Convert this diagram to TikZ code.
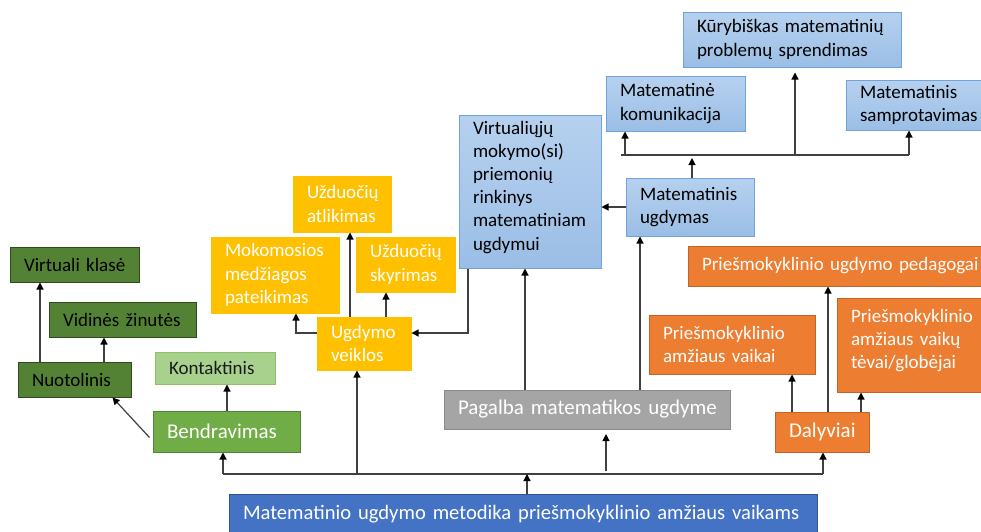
\documentclass[tikz,border=0pt]{standalone}
\usepackage{fontspec}
\setmainfont{Carlito}
\usetikzlibrary{arrows.meta}

% box colours
\definecolor{blueT}{HTML}{B6D1EF}
\definecolor{blueB}{HTML}{9BBEE6}
\definecolor{blueLine}{HTML}{6FA3DA}
\definecolor{amber}{HTML}{FFC000}
\definecolor{orangeF}{HTML}{ED7D31}
\definecolor{orangeL}{HTML}{C0652A}
\definecolor{greyF}{HTML}{A5A5A5}
\definecolor{greyL}{HTML}{8A8A8A}
\definecolor{baseF}{HTML}{4472C4}
\definecolor{baseL}{HTML}{2F5597}
\definecolor{greenF}{HTML}{70AD47}
\definecolor{greenL}{HTML}{548235}
\definecolor{paleF}{HTML}{A9D18E}
\definecolor{paleL}{HTML}{8CC168}
\definecolor{darkF}{HTML}{548235}
\definecolor{darkL}{HTML}{2E4A1E}
\definecolor{wireC}{HTML}{404040}

% one unbreakable line of box text
\newcommand\oneline[1]{\mbox{#1}}

\tikzset{
  box/.style={rectangle, inner xsep=14pt, inner ysep=0pt, align=left,
    line width=1pt, font=\fontsize{19}{23.2}\selectfont},
  bigtext/.style={font=\fontsize{21}{25.6}\selectfont},
  basetext/.style={font=\fontsize{20.6}{25}\selectfont},
  bluebox/.style={box, draw=blueLine, top color=blueT, bottom color=blueB, text=black},
  amberbox/.style={box, draw=amber, fill=amber, text=white},
  orangebox/.style={box, draw=orangeL, fill=orangeF, text=white},
  greybox/.style={box, draw=greyL, fill=greyF, text=white},
  basebox/.style={box, draw=baseL, fill=baseF, text=white},
  greenbox/.style={box, draw=greenL, fill=greenF, text=white},
  palebox/.style={box, draw=paleL, fill=paleF, text=black!90},
  darkbox/.style={box, draw=darkL, fill=darkF, text=black},
  wire/.style={draw=wireC, line width=1.2pt},
  arr/.style={wire, -{Triangle[length=7pt,width=7pt,color=black]}},
}

\begin{document}
\begin{tikzpicture}[x=1pt, y=-1pt]
\useasboundingbox (0,0) rectangle (981,531);

% ---- root ----
\node[basebox, basetext, text width=560, minimum height=40] (base) at (523,514)
  {\oneline{Matematinio ugdymo metodika priešmokyklinio amžiaus vaikams}};

% ---- communication branch ----
\node[greenbox, bigtext, text width=119, minimum height=41] (bend) at (226.5,431.5) {\oneline{Bendravimas}};
\node[palebox, text width=92, minimum height=32] (kont) at (215,368) {\oneline{Kontaktinis}};
\node[darkbox, text width=85, minimum height=35] (nuot) at (74.5,379.5) {\oneline{Nuotolinis}};
\node[darkbox, text width=119, minimum height=35] (vid) at (122.5,319.5) {\oneline{Vidinės žinutės}};
\node[darkbox, text width=101, minimum height=35] (virt) at (74.5,264.5) {\oneline{Virtuali klasė}};

% ---- educational activities ----
\node[amberbox, text width=66, minimum height=53] (ugd) at (364,343.5) {Ugdymo\\veiklos};
\node[amberbox, text width=100, minimum height=76] (mok) at (275,275) {Mokomosios\\medžiagos\\pateikimas};
\node[amberbox, text width=70, minimum height=56] (atl) at (342,204) {Užduočių\\atlikimas};
\node[amberbox, text width=71, minimum height=55] (sky) at (405.5,264.5) {Užduočių\\skyrimas};

% ---- support in mathematics ----
\node[greybox, bigtext, text width=258, minimum height=39] (pag) at (587,409.5) {\oneline{Pagalba matematikos ugdyme}};
\node[bluebox, text width=114, minimum height=153] (vmp) at (530,191.5)
  {Virtualiųjų\\mokymo(si)\\priemonių\\rinkinys\\\oneline{matematiniam}\\ugdymui\rule[-12pt]{0pt}{0pt}};
\node[bluebox, text width=100, minimum height=58] (mu) at (690,207) {\oneline{Matematinis}\\ugdymas};
\node[bluebox, text width=111, minimum height=55] (mk) at (675.5,103.5) {Matematinė\\\oneline{komunikacija}};
\node[bluebox, text width=190, minimum height=55] (kur) at (792,39.5)
  {\oneline{Kūrybiškas matematinių}\\\oneline{problemų sprendimas}};
\node[bluebox, text width=116, minimum height=50] (sam) at (918,105) {Matematinis\\\oneline{samprotavimas}};

% ---- participants ----
\node[orangebox, bigtext, text width=66, minimum height=40] (dal) at (822,432) {\oneline{Dalyviai}};
\node[orangebox, text width=138, minimum height=59] (vaik) at (732,344.5)
  {\oneline{Priešmokyklinio}\\\oneline{amžiaus vaikai}};
\node[orangebox, text width=130, minimum height=94] (tev) at (916,345)
  {\oneline{Priešmokyklinio}\\\oneline{amžiaus vaikų}\\\oneline{tėvai/globėjai}\rule[-12pt]{0pt}{0pt}};
\node[orangebox, text width=279, minimum height=40] (ped) at (841.5,266)
  {\oneline{Priešmokyklinio ugdymo pedagogai}};

% ---- lower bus ----
\coordinate (busL) at (223,474);
\coordinate (busU) at (357,474);
\coordinate (busM) at (527,474);
\coordinate (busR) at (823,474);
\coordinate (pagFoot) at (606,471);
\coordinate (pagTip) at (606,434);
\draw[wire] (busL) -- (busR);
\draw[arr] (busM |- base.north) -- (busM);
\draw[arr] (busL) -- (busL |- bend.south);
\draw[arr] (busU) -- (busU |- ugd.south);
\draw[arr] (busR) -- (busR |- dal.south);
\draw[arr] (pagFoot) -- (pagTip);

% ---- communication links ----
\coordinate (bendN) at ([xshift=0.5pt]bend.north);
\coordinate (bendW) at ([yshift=-6pt,xshift=-3pt]bend.west);
\coordinate (nuotS) at ([xshift=38pt]nuot.south);
\coordinate (nuotA) at ([xshift=29.5pt]nuot.north);
\coordinate (nuotB) at ([xshift=-34.5pt]nuot.north);
\draw[arr] (bendN) -- (bendN |- kont.south);
\draw[arr] (bendW) -- (nuotS);
\draw[arr] (nuotA) -- (nuotA |- vid.south);
\draw[arr] (nuotB) -- (nuotB |- virt.south);

% ---- activity links ----
\coordinate (ugdA) at ([xshift=-14pt]ugd.north);
\coordinate (ugdB) at ([xshift=22pt]ugd.north);
\coordinate (ugdW) at ([yshift=10.5pt]ugd.west);
\coordinate (ugdE) at ([yshift=10.5pt]ugd.east);
\coordinate (mokS) at ([xshift=21pt]mok.south);
\coordinate (vmpS) at ([xshift=-62pt]vmp.south);
\draw[arr] (ugdA) -- (ugdA |- atl.south);
\draw[arr] (ugdB) -- (ugdB |- sky.south);
\draw[arr] (ugdW) -| (mokS);
\draw[arr] (vmpS) |- (ugdE);

% ---- support links ----
\coordinate (pagA) at ([xshift=-62pt]pag.north);
\coordinate (pagB) at ([xshift=53pt]pag.north);
\draw[arr] (pagA) -- (pagA |- vmp.south);
\draw[arr] (pagB) -- (pagB |- mu.south);
\draw[arr] (mu.west) -- (vmp.east |- mu.west);

% ---- upper bus ----
\coordinate (topL) at (621,155);
\coordinate (topR) at (909,155);
\coordinate (topA) at (625,155);
\coordinate (topK) at (795,155);
\coordinate (muN) at ([xshift=2pt]mu.north);
\coordinate (muTip) at (692,158);
\draw[wire] (topL) -- (topR);
\draw[arr] (muN) -- (muTip);
\draw[arr] (topA) -- (topA |- mk.south);
\draw[arr, shorten >=5pt] (topK) -- (topK |- kur.south);
\draw[arr] (topR) -- (topR |- sam.south);

% ---- participant links ----
\coordinate (dalA) at ([xshift=-30pt]dal.north);
\coordinate (dalB) at ([xshift=6pt]dal.north);
\coordinate (dalC) at ([xshift=39pt]dal.north);
\draw[arr] (dalA) -- (dalA |- vaik.south);
\draw[arr] (dalB) -- (dalB |- ped.south);
\draw[arr] (dalC) -- (dalC |- tev.south);
\end{tikzpicture}
\end{document}
